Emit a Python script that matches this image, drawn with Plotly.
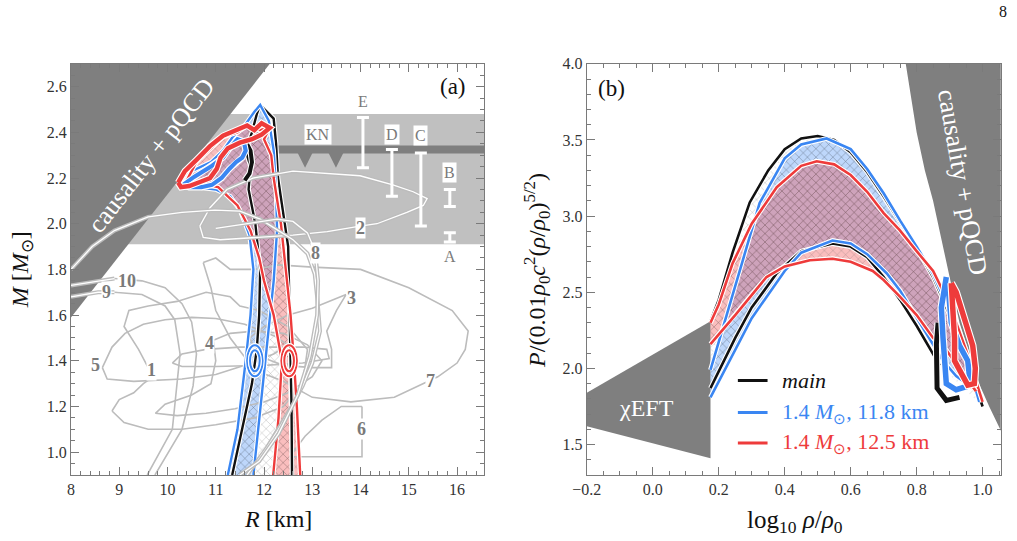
import plotly.graph_objects as go

FONT = "Liberation Serif"
BLACK = "#111111"
BLUE = "#3a86f2"
RED = "#ee3b3b"
DARK = "#7f7f7f"
LIGHT = "#c0c0c0"
CONT = "#bcbcbc"
LABEL = "#7a7a7a"

# ---------------- Panel (a): M-R plane ----------------
causal_a_R = [8.0, 12.12, 8.0]
causal_a_M = [1.59, 2.70, 2.70]

band_M = [1.91, 2.48]          # light grey mass band
kn_M = 2.325                    # KN upper bound line
kn_arrow_R = [12.85, 13.49]
kn_arrow_tip = 2.245

bar_names = ["E", "D", "C", "B", "A"]
bar_R = [14.05, 14.65, 15.25, 15.85, 15.85]
bar_lo = [2.245, 2.12, 1.99, 2.075, 1.92]
bar_hi = [2.465, 2.325, 2.31, 2.15, 1.96]
bar_label_M = [2.535, 2.39, 2.385, 2.225, 1.855]

# main (black) band
main_R = [11.34, 11.54, 11.75, 11.85, 11.90, 11.92, 11.82, 11.68, 11.72, 11.62, 11.75, 11.85, 11.92,
          12.20, 12.25, 12.29, 12.40, 12.50, 12.53, 12.55, 12.57, 12.58]
main_M = [0.90, 1.10, 1.30, 1.45, 1.60, 1.80, 2.00, 2.15, 2.25, 2.32, 2.40, 2.48, 2.52,
          2.46, 2.35, 2.20, 2.05, 1.90, 1.60, 1.40, 1.20, 0.90]
# 11.8 km (blue) band
blue_R = [11.25, 11.45, 11.62, 11.72, 11.78, 11.70, 11.50, 11.30, 11.00, 10.60, 10.35, 10.50, 10.90, 11.15,
          11.35, 11.60, 11.80, 11.92, 12.10, 12.20, 12.25, 12.27, 12.20, 12.10, 12.02, 11.92, 11.78]
blue_M = [0.90, 1.10, 1.40, 1.60, 1.80, 1.95, 2.06, 2.12, 2.15, 2.16, 2.18, 2.23, 2.27, 2.32,
          2.38, 2.43, 2.49, 2.52, 2.45, 2.32, 2.15, 1.97, 1.75, 1.55, 1.40, 1.20, 0.90]
# 12.5 km (red) band
red_R = [12.19, 12.30, 12.37, 12.20, 12.00, 11.90, 11.72, 11.45, 11.25, 11.05, 10.80, 10.35, 10.60, 10.90,
         11.15, 11.45, 11.65, 11.90, 12.12, 12.00, 12.15, 12.20, 12.35, 12.45, 12.55, 12.62, 12.68, 12.75]
red_M = [0.90, 1.15, 1.40, 1.60, 1.75, 1.85, 1.97, 2.08, 2.12, 2.16, 2.17, 2.17, 2.27, 2.33,
         2.38, 2.40, 2.43, 2.41, 2.42, 2.37, 2.30, 2.20, 2.00, 1.80, 1.60, 1.40, 1.20, 0.90]

# high-mass blobs (thick outlines)
red_blob_R = [10.22, 10.36, 10.60, 10.88, 11.15, 11.44, 11.65, 11.80, 11.95, 12.12, 11.95, 11.75, 11.50,
              11.25, 11.10, 11.02, 10.88, 10.70, 10.45, 10.28, 10.22]
red_blob_M = [2.18, 2.23, 2.28, 2.34, 2.385, 2.41, 2.43, 2.41, 2.44, 2.42, 2.39, 2.37, 2.355,
              2.33, 2.29, 2.24, 2.20, 2.185, 2.165, 2.16, 2.18]
blue_blob_R = [10.32, 10.55, 10.90, 11.15, 11.30, 11.45, 11.58, 11.62, 11.55, 11.42, 11.28, 11.12, 10.92,
               10.70, 10.45, 10.32]
blue_blob_M = [2.17, 2.205, 2.25, 2.29, 2.335, 2.37, 2.36, 2.32, 2.29, 2.27, 2.24, 2.20, 2.17,
               2.16, 2.16, 2.17]
black_blob_R = [11.62, 11.72, 11.75, 11.70, 11.60]
black_blob_M = [2.36, 2.32, 2.27, 2.22, 2.19]

# 1.4 Msun ellipses: centres
ell_R = [11.81, 12.52]
ell_M = [1.40, 1.40]

# literature contours 1-10
c1_R = [10.10, 10.30, 10.80, 11.50, 12.20, 12.80, 13.30, 13.35, 12.80, 12.00, 11.00, 10.30, 10.10]
c1_M = [1.39, 1.43, 1.45, 1.46, 1.46, 1.46, 1.45, 1.41, 1.39, 1.38, 1.375, 1.375, 1.39]
c1b_R = [8.85, 9.00, 9.30, 9.50, 9.70, 9.40, 9.10, 9.20, 9.60, 10.20, 10.80, 11.30, 11.50, 11.90, 12.50,
         12.90, 12.80, 12.40, 11.80, 11.00, 10.30, 9.60, 9.10, 8.85]
c1b_M = [1.18, 1.23, 1.26, 1.30, 1.33, 1.45, 1.55, 1.62, 1.64, 1.66, 1.70, 1.68, 1.64, 1.62, 1.55,
         1.45, 1.30, 1.20, 1.15, 1.12, 1.10, 1.10, 1.13, 1.18]
c2_R = [10.67, 10.88, 11.23, 11.77, 12.60, 13.31, 13.99, 14.67, 15.09, 15.38, 15.30, 14.96, 14.34,
        13.99, 13.31, 12.60, 11.92, 11.09, 10.74, 10.67]
c2_M = [1.99, 2.07, 2.15, 2.20, 2.23, 2.22, 2.21, 2.17, 2.14, 2.11, 2.08, 2.05, 2.00,
        1.99, 1.965, 1.95, 1.94, 1.93, 1.94, 1.99]
c3_R = [13.70, 13.00, 12.50, 12.00, 11.70, 11.90, 12.40, 13.00, 13.40, 13.40, 13.30, 13.50, 13.70]
c3_M = [1.69, 1.63, 1.60, 1.55, 1.50, 1.42, 1.38, 1.37, 1.37, 1.45, 1.53, 1.62, 1.69]
c4_R = [10.95, 11.30, 11.80, 12.40, 12.90, 13.20, 13.00, 12.50, 12.00, 11.40, 10.80, 10.20, 9.75,
        9.95, 10.50, 10.90, 11.00, 10.95]
c4_M = [1.49, 1.52, 1.53, 1.52, 1.47, 1.40, 1.33, 1.26, 1.22, 1.19, 1.17, 1.16, 1.17,
        1.21, 1.25, 1.30, 1.40, 1.49]
c5_R = [8.65, 8.85, 9.12, 9.50, 9.95, 10.50, 11.00, 11.60, 12.20, 12.50, 12.20, 11.60, 11.00, 10.30,
        9.30, 8.75, 8.65]
c5_M = [1.37, 1.46, 1.52, 1.56, 1.58, 1.59, 1.585, 1.56, 1.51, 1.47, 1.43, 1.38, 1.34, 1.32,
        1.31, 1.32, 1.37]
c6_R = [14.03, 13.60, 13.20, 12.85, 12.60, 12.55, 14.03, 14.03]
c6_M = [1.20, 1.20, 1.14, 1.07, 1.00, 0.98, 0.98, 1.20]
c7_R = [10.74, 11.00, 11.30, 11.80, 12.30, 13.00, 14.00, 15.00, 15.90, 16.23, 16.17, 16.00, 15.60,
        14.70, 13.80, 13.00, 12.40, 11.80, 11.30, 11.00, 10.90, 10.74]
c7_M = [1.83, 1.85, 1.80, 1.80, 1.82, 1.81, 1.80, 1.72, 1.62, 1.53, 1.45, 1.39, 1.33,
        1.24, 1.22, 1.24, 1.31, 1.36, 1.50, 1.62, 1.72, 1.83]
c8_R = [8.00, 8.44, 8.90, 9.60, 10.30, 10.98, 11.50, 11.92, 12.30, 12.60, 12.90, 13.05, 13.10, 13.16,
        13.00, 12.80, 12.60, 12.30, 12.06, 11.65]
c8_M = [1.80, 1.90, 1.97, 2.03, 2.05, 2.06, 2.055, 2.02, 1.97, 1.93, 1.87, 1.78, 1.68, 1.53,
        1.39, 1.29, 1.21, 1.10, 1.02, 0.90]
c8b_R = [11.00, 11.60, 12.27, 12.60, 12.90, 13.06, 13.12, 13.10, 12.95, 12.70, 12.30, 11.90, 11.50]
c8b_M = [1.98, 2.00, 2.02, 2.01, 1.96, 1.88, 1.75, 1.60, 1.42, 1.25, 1.08, 0.96, 0.90]
c9_R = [8.00, 8.56, 8.90, 9.47, 9.95, 10.15, 10.26, 10.10, 9.58]
c9_M = [1.68, 1.70, 1.70, 1.69, 1.64, 1.58, 1.43, 1.10, 0.90]
c10_R = [8.00, 8.90, 9.47, 9.95, 10.30, 10.50, 10.60, 10.53, 10.30, 9.74]
c10_M = [1.73, 1.76, 1.75, 1.72, 1.65, 1.57, 1.43, 1.29, 1.10, 0.90]

num_labels = ["1", "2", "3", "4", "5", "6", "7", "8", "9", "10"]
num_R = [9.66, 13.99, 13.82, 10.86, 8.50, 14.03, 15.44, 13.06, 8.73, 9.16]
num_M = [1.36, 1.98, 1.675, 1.48, 1.38, 1.10, 1.31, 1.87, 1.70, 1.75]

# ---------------- Panel (b): P(rho) ----------------
chi_x = [-0.2, 0.175, 0.175, -0.2]
chi_P = [1.84, 2.31, 1.41, 1.62]
causal_b_x = [0.767, 0.785, 0.80, 0.825, 0.85, 0.875, 0.90, 0.93, 0.96, 0.985, 1.02, 1.06, 1.06]
causal_b_P = [4.0, 3.75, 3.55, 3.30, 3.10, 2.85, 2.60, 2.30, 2.10, 1.92, 1.75, 1.57, 4.0]

bu_x = [0.175, 0.20, 0.242, 0.294, 0.35, 0.40, 0.45, 0.50, 0.55, 0.60, 0.65, 0.70, 0.75, 0.80, 0.85, 0.90, 0.95, 1.00]
bu_P = [2.31, 2.45, 2.76, 3.09, 3.30, 3.44, 3.51, 3.526, 3.50, 3.42, 3.29, 3.13, 2.96, 2.79, 2.60, 2.35, 2.07, 1.75]
bl_x = [0.175, 0.25, 0.30, 0.376, 0.45, 0.545, 0.60, 0.65, 0.70, 0.75, 0.80, 0.85, 0.87]
bl_P = [1.87, 2.20, 2.40, 2.625, 2.77, 2.82, 2.80, 2.73, 2.60, 2.45, 2.28, 2.10, 2.02]
blu_x = [0.175, 0.20, 0.242, 0.273, 0.324, 0.40, 0.45, 0.527, 0.60, 0.65, 0.70, 0.75, 0.80, 0.85, 0.90, 0.95, 0.99]
blu_P = [1.99, 2.17, 2.48, 2.71, 3.086, 3.38, 3.47, 3.51, 3.44, 3.31, 3.15, 2.97, 2.80, 2.62, 2.38, 2.08, 1.78]
bll_x = [0.175, 0.25, 0.30, 0.40, 0.45, 0.545, 0.60, 0.65, 0.709, 0.75, 0.80, 0.85, 0.88, 0.92, 0.97]
bll_P = [1.81, 2.12, 2.33, 2.64, 2.76, 2.84, 2.82, 2.75, 2.625, 2.51, 2.33, 2.15, 2.05, 1.95, 1.87]
ru_x = [0.175, 0.20, 0.242, 0.30, 0.376, 0.45, 0.497, 0.55, 0.60, 0.65, 0.70, 0.748, 0.80, 0.85, 0.90, 0.95, 1.00]
ru_P = [2.30, 2.42, 2.69, 2.95, 3.19, 3.33, 3.36, 3.34, 3.27, 3.16, 3.02, 2.91, 2.77, 2.64, 2.42, 2.12, 1.78]
rl_x = [0.175, 0.25, 0.345, 0.40, 0.476, 0.545, 0.60, 0.667, 0.70, 0.75, 0.80, 0.85, 0.89, 0.93, 0.98]
rl_P = [2.16, 2.35, 2.60, 2.67, 2.71, 2.72, 2.70, 2.64, 2.58, 2.47, 2.35, 2.20, 2.12, 2.00, 1.85]

red_loop_x = [0.905, 0.91, 0.915, 0.915, 0.935, 0.955, 0.975, 0.978, 0.97, 0.945, 0.92, 0.905]
red_loop_P = [2.56, 2.40, 2.20, 2.05, 1.97, 1.89, 1.90, 2.00, 2.15, 2.32, 2.50, 2.56]
blue_loop_x = [0.89, 0.875, 0.88, 0.885, 0.89, 0.92, 0.95, 0.96, 0.955, 0.93, 0.905, 0.895]
blue_loop_P = [2.60, 2.40, 2.20, 2.00, 1.90, 1.86, 1.88, 1.95, 2.05, 2.15, 2.30, 2.55]
black_hook_x = [0.865, 0.86, 0.862, 0.89, 0.93]
black_hook_P = [2.30, 2.16, 1.87, 1.79, 1.81]

legend_names = ["<i>main</i>", "1.4 <i>M</i><sub>⊙</sub>, 11.8 km", "1.4 <i>M</i><sub>⊙</sub>, 12.5 km"]
legend_colors = [BLACK, BLUE, RED]
legend_P = [1.92, 1.71, 1.51]

fig = go.Figure()


def line(x, y, color, width, ax="", halo=True):
    xa, ya = "x" + ax, "y" + ax
    if halo:
        fig.add_trace(go.Scatter(x=x, y=y, mode="lines", xaxis=xa, yaxis=ya,
                                 line=dict(color="white", width=width + 2.2), hoverinfo="skip"))
    fig.add_trace(go.Scatter(x=x, y=y, mode="lines", xaxis=xa, yaxis=ya,
                             line=dict(color=color, width=width), hoverinfo="skip"))


def solid(x, y, color, ax=""):
    fig.add_trace(go.Scatter(x=x, y=y, mode="lines", fill="toself", xaxis="x" + ax, yaxis="y" + ax,
                             fillcolor=color, line=dict(width=0, color=color), hoverinfo="skip"))


def fillpoly(x, y, bg, ax=""):
    fig.add_trace(go.Scatter(x=x, y=y, mode="lines", fill="toself", xaxis="x" + ax, yaxis="y" + ax,
                             line=dict(width=0, color="rgba(0,0,0,0)"),
                             fillpattern=dict(shape="x", size=6, solidity=0.12, fgcolor="#555555",
                                              fgopacity=0.55, bgcolor=bg),
                             hoverinfo="skip"))


def double(x, y, ax=""):
    fig.add_trace(go.Scatter(x=x, y=y, mode="lines", xaxis="x" + ax, yaxis="y" + ax,
                             line=dict(color=CONT, width=4), hoverinfo="skip"))
    fig.add_trace(go.Scatter(x=x, y=y, mode="lines", xaxis="x" + ax, yaxis="y" + ax,
                             line=dict(color="white", width=1.3), hoverinfo="skip"))


# ----- panel (a) -----
solid(causal_a_R, causal_a_M, DARK)

for r, m in [(main_R, main_M), (blue_R, blue_M), (red_R, red_M)]:
    solid(r, m, "white")
fillpoly(main_R, main_M, "rgba(255,255,255,0)")
fillpoly(blue_R, blue_M, "rgba(58,134,242,0.33)")
fillpoly(red_R, red_M, "rgba(238,59,59,0.33)")

for (r, m) in [(c1_R, c1_M), (c1b_R, c1b_M), (c3_R, c3_M), (c4_R, c4_M), (c5_R, c5_M),
               (c6_R, c6_M), (c7_R, c7_M), (c9_R[2:], c9_M[2:]), (c10_R[1:], c10_M[1:])]:
    fig.add_trace(go.Scatter(x=r, y=m, mode="lines", line=dict(color=CONT, width=1.6), hoverinfo="skip"))

line(main_R, main_M, BLACK, 2.4)
line(blue_R, blue_M, BLUE, 2.4)
line(red_R, red_M, RED, 2.4)

double(c2_R, c2_M)
double(c8_R, c8_M)
double(c8b_R, c8b_M)
double(c9_R[:3], c9_M[:3])
double(c10_R[:2], c10_M[:2])

line(black_blob_R, black_blob_M, BLACK, 4)
line(blue_blob_R, blue_blob_M, BLUE, 4.2)
line(red_blob_R, red_blob_M, RED, 4.5)

# error bars of the mass measurements
fig.add_trace(go.Scatter(
    x=bar_R, y=[(a + b) / 2 for a, b in zip(bar_lo, bar_hi)], mode="markers",
    marker=dict(size=1, color="rgba(0,0,0,0)"),
    error_y=dict(type="data", symmetric=True, array=[(b - a) / 2 for a, b in zip(bar_lo, bar_hi)],
                 color="white", thickness=3, width=6),
    hoverinfo="skip"))

# ----- panel (b) -----
solid(chi_x, chi_P, DARK, "2")
solid(causal_b_x, causal_b_P, DARK, "2")

fillpoly(bu_x + bl_x[::-1], bu_P + bl_P[::-1], "rgba(255,255,255,0)", "2")
fillpoly(blu_x + bll_x[::-1], blu_P + bll_P[::-1], "rgba(58,134,242,0.33)", "2")
fillpoly(ru_x + rl_x[::-1], ru_P + rl_P[::-1], "rgba(238,59,59,0.33)", "2")

for (x, p, c) in [(bu_x, bu_P, BLACK), (bl_x, bl_P, BLACK), (blu_x, blu_P, BLUE), (bll_x, bll_P, BLUE),
                  (ru_x, ru_P, RED), (rl_x, rl_P, RED)]:
    line(x, p, c, 2.6, "2")
line(black_hook_x, black_hook_P, BLACK, 5, "2")
line(blue_loop_x, blue_loop_P, BLUE, 5.5, "2")
line(red_loop_x, red_loop_P, RED, 5.5, "2")

# ----- shapes -----
shapes = [
    dict(type="rect", xref="x domain", yref="y", x0=0, x1=1, y0=band_M[0], y1=band_M[1],
         fillcolor=LIGHT, line=dict(width=0), layer="below"),
    dict(type="line", xref="x domain", yref="y", x0=0, x1=1, y0=kn_M, y1=kn_M,
         line=dict(color=DARK, width=8), layer="below"),
]
for r0, m0 in zip(ell_R, ell_M):
    col = BLUE if r0 < 12.2 else RED
    for a, b in [(0.16, 0.068), (0.10, 0.046)]:
        shapes.append(dict(type="circle", xref="x", yref="y", x0=r0 - a, x1=r0 + a, y0=m0 - b, y1=m0 + b,
                           line=dict(color="white", width=4.5)))
        shapes.append(dict(type="circle", xref="x", yref="y", x0=r0 - a, x1=r0 + a, y0=m0 - b, y1=m0 + b,
                           line=dict(color=col, width=2)))
for i, col in enumerate(legend_colors):
    shapes.append(dict(type="line", xref="x2", yref="y2", x0=0.258, x1=0.348, y0=legend_P[i], y1=legend_P[i],
                       line=dict(color=col, width=3)))

ann = []
for r in kn_arrow_R:
    ann.append(dict(x=r, y=kn_arrow_tip, ax=r, ay=kn_M, xref="x", yref="y", axref="x", ayref="y",
                    showarrow=True, arrowhead=2, arrowsize=0.9, arrowwidth=4, arrowcolor=DARK, text=""))
ann.append(dict(x=13.12, y=2.39, xref="x", yref="y", text="KN", showarrow=False, bgcolor="white",
                font=dict(family=FONT, size=16, color=LABEL), borderpad=1))
for nm, r, m in zip(bar_names, bar_R, bar_label_M):
    ann.append(dict(x=r, y=m, xref="x", yref="y", text=nm, showarrow=False, bgcolor="white",
                    font=dict(family=FONT, size=16, color=LABEL), borderpad=1))
for nm, r, m in zip(num_labels, num_R, num_M):
    ann.append(dict(x=r, y=m, xref="x", yref="y", text="<b>" + nm + "</b>", showarrow=False, bgcolor="white",
                    font=dict(family=FONT, size=18, color=LABEL), borderpad=0))
ann.append(dict(x=9.66, y=2.30, xref="x", yref="y", text="causality + pQCD", showarrow=False,
                textangle=-52, font=dict(family=FONT, size=26, color="white")))
ann.append(dict(x=15.92, y=2.60, xref="x", yref="y", text="(a)", showarrow=False,
                font=dict(family=FONT, size=23, color=BLACK)))
ann.append(dict(x=-0.124, y=3.84, xref="x2", yref="y2", text="(b)", showarrow=False,
                font=dict(family=FONT, size=23, color=BLACK)))
ann.append(dict(x=-0.02, y=1.74, xref="x2", yref="y2", text="χEFT", showarrow=False,
                font=dict(family=FONT, size=24, color="white")))
ann.append(dict(x=0.939, y=3.22, xref="x2", yref="y2", text="causality + pQCD", showarrow=False,
                textangle=80, font=dict(family=FONT, size=26, color="white")))
for i, (nm, col) in enumerate(zip(legend_names, legend_colors)):
    ann.append(dict(x=0.385, y=legend_P[i], xref="x2", yref="y2", text=nm, showarrow=False,
                    xanchor="left", yanchor="middle", font=dict(family=FONT, size=22, color=col)))
# axis titles and page number
ann += [
    dict(x=0.273, y=0.040, xref="paper", yref="paper", text="<i>R</i> [km]", showarrow=False,
         xanchor="center", yanchor="middle", font=dict(family=FONT, size=24, color=BLACK)),
    dict(x=0.022, y=0.501, xref="paper", yref="paper", text="<i>M</i> [<i>M</i><sub>⊙</sub>]",
         xanchor="center", yanchor="middle",
         showarrow=False, textangle=-90, font=dict(family=FONT, size=24, color=BLACK)),
    dict(x=0.782, y=0.036, xref="paper", yref="paper",
         text="log<sub>10</sub> <i>ρ</i>/<i>ρ</i><sub>0</sub>", showarrow=False,
         xanchor="center", yanchor="middle", font=dict(family=FONT, size=25, color=BLACK)),
    dict(x=0.528, y=0.501, xref="paper", yref="paper",
         text="<i>P</i>/(0.01<i>ρ</i><sub>0</sub><i>c</i><sup>2</sup>(<i>ρ</i>/<i>ρ</i><sub>0</sub>)<sup>5/2</sup>)",
         xanchor="center", yanchor="middle",
         showarrow=False, textangle=-90, font=dict(family=FONT, size=24, color=BLACK)),
    dict(x=0.986, y=0.978, xref="paper", yref="paper", text="8", showarrow=False,
         xanchor="center", yanchor="middle", font=dict(family=FONT, size=16, color=BLACK)),
]

ax_common = dict(showgrid=False, zeroline=False, showline=True, linecolor="#7a7a7a", linewidth=1.2,
                 mirror="allticks", ticks="inside", ticklen=8, tickwidth=1.1, tickcolor="#7a7a7a",
                 automargin=False, tickfont=dict(family=FONT, size=16, color="#333333"))
fig.update_layout(
    template="none",
    width=1017, height=541, margin=dict(l=0, r=0, t=0, b=0, pad=0),
    paper_bgcolor="white", plot_bgcolor="white", showlegend=False,
    xaxis=dict(domain=[0.0698, 0.476], range=[8, 16.56], anchor="y", tickvals=list(range(8, 17)),
               minor=dict(dtick=0.2, tick0=8, ticks="inside", ticklen=4, tickcolor="#7a7a7a"), **ax_common),
    yaxis=dict(domain=[0.122, 0.882], range=[0.9, 2.7], anchor="x",
               tickvals=[1.0, 1.2, 1.4, 1.6, 1.8, 2.0, 2.2, 2.4, 2.6], tickformat=".1f",
               minor=dict(dtick=0.05, tick0=0.9, ticks="inside", ticklen=4, tickcolor="#7a7a7a"), **ax_common),
    xaxis2=dict(domain=[0.577, 0.984], range=[-0.2, 1.055], anchor="y2",
                tickvals=[-0.2, 0.0, 0.2, 0.4, 0.6, 0.8, 1.0], tickformat=".1f",
                minor=dict(dtick=0.05, tick0=0, ticks="inside", ticklen=4, tickcolor="#7a7a7a"), **ax_common),
    yaxis2=dict(domain=[0.122, 0.882], range=[1.3, 4.0], anchor="x2",
                tickvals=[1.5, 2.0, 2.5, 3.0, 3.5, 4.0], tickformat=".1f",
                minor=dict(dtick=0.1, tick0=1.3, ticks="inside", ticklen=4, tickcolor="#7a7a7a"), **ax_common),
    shapes=shapes, annotations=ann,
)

fig.write_html("out.html")
